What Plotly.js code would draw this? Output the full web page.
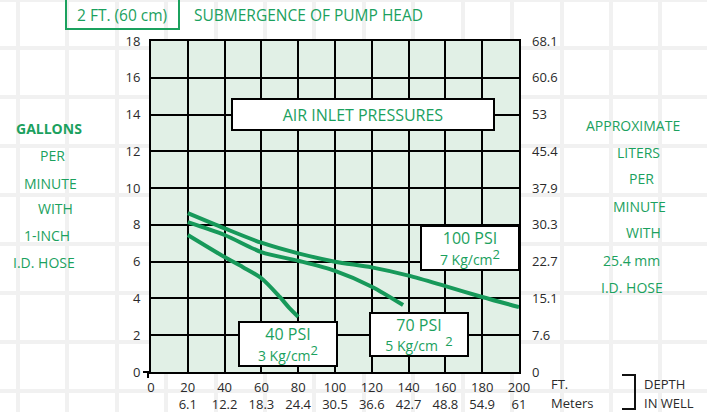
<!DOCTYPE html>
<html>
<head>
<meta charset="utf-8">
<script src="https://cdn.plot.ly/plotly-3.0.1.min.js"></script>
<style>
html,body{margin:0;padding:0;background:#fff;}
#chart{width:707px;height:412px;}
</style>
</head>
<body>
<div id="chart"></div>
<script>
// ---- data ----
const depthFt = [0, 20, 40, 60, 80, 100, 120, 140, 160, 180, 200];
const depthFtLabels = ['0', '20', '40', '60', '80', '100', '120', '140', '160', '180', '200'];
const depthMeterLabels = ['', '6.1', '12.2', '18.3', '24.4', '30.5', '36.6', '42.7', '48.8', '54.9', '61'];

const gpmTicks = [0, 2, 4, 6, 8, 10, 12, 14, 16, 18];
const lpmLabels = ['0', '7.6', '15.1', '22.7', '30.3', '37.9', '45.4', '53', '60.6', '68.1'];

const psi40Ft  = [20, 40, 50, 60, 70, 75, 80];
const psi40Gpm = [7.45, 6.25, 5.7, 5.1, 4.08, 3.5, 3.0];

const psi70Ft  = [20, 40, 60, 80, 100, 120, 137];
const psi70Gpm = [8.15, 7.45, 6.52, 6.05, 5.5, 4.64, 3.64];

const psi100Ft  = [20, 40, 60, 80, 100, 120, 140, 160, 180, 200];
const psi100Gpm = [8.64, 7.81, 7.03, 6.45, 6.0, 5.69, 5.24, 4.67, 4.08, 3.53];

// ---- layout helpers (pixel -> paper) ----
const W = 707, H = 412;
const L = 151, R = 519, T = 41, B = 372;
const PW = R - L, PH = B - T;
const px = x => (x - L) / PW;
const py = y => (B - y) / PH;

const GREEN_TXT = '#1ba15e';
const GREEN_LINE = '#17995a';
const FONT = 'Open Sans, Noto Sans, sans-serif';
const DARK = '#2a2a2a';

const lineStyle = {color: GREEN_LINE, width: 4, shape: 'spline', smoothing: 0.8};
const traces = [
  {x: psi100Ft, y: psi100Gpm, type: 'scatter', mode: 'lines', name: '100 PSI', line: lineStyle, hoverinfo: 'x+y'},
  {x: psi70Ft,  y: psi70Gpm,  type: 'scatter', mode: 'lines', name: '70 PSI',  line: lineStyle, hoverinfo: 'x+y'},
  {x: psi40Ft,  y: psi40Gpm,  type: 'scatter', mode: 'lines', name: '40 PSI',  line: lineStyle, hoverinfo: 'x+y'},
  // invisible trace to enable the right-hand axis
  {x: [0], y: [0], yaxis: 'y2', type: 'scatter', mode: 'markers', marker: {opacity: 0}, showlegend: false, hoverinfo: 'skip'}
];

// faint page grid
const shapes = [];
const faintV = [18, 67, 117, 166, 216, 265, 314, 364, 413, 463, 512, 562, 611, 660];
const faintH = [0, 48, 97, 146, 195, 244, 293, 342, 391];
faintV.forEach(v => shapes.push({type: 'line', xref: 'paper', yref: 'paper', layer: 'below',
  x0: px(v), x1: px(v), y0: py(0), y1: py(H), line: {color: '#f1f1f1', width: 4}}));
faintH.forEach(h => shapes.push({type: 'line', xref: 'paper', yref: 'paper', layer: 'below',
  x0: px(0), x1: px(W), y0: py(h), y1: py(h), line: {color: '#f1f1f1', width: 4}}));
// plot area fill
shapes.push({type: 'rect', xref: 'paper', yref: 'paper', layer: 'below', x0: 0, x1: 1, y0: 0, y1: 1,
  fillcolor: '#e1f0e6', line: {width: 0}});
// top "2 FT" box (open at top)
shapes.push({type: 'path', xref: 'paper', yref: 'paper',
  path: `M ${px(66)} ${py(-4)} L ${px(66)} ${py(29)} L ${px(179)} ${py(29)} L ${px(179)} ${py(-4)}`,
  line: {color: GREEN_TXT, width: 2}});
// x-axis stub to the left and tick at 0
shapes.push({type: 'line', xref: 'paper', yref: 'paper', x0: px(143), x1: px(151), y0: py(372), y1: py(372), line: {color: '#000', width: 2}});
shapes.push({type: 'line', xref: 'paper', yref: 'paper', x0: px(148), x1: px(148), y0: py(372), y1: py(378), line: {color: '#000', width: 2}});
// bracket for DEPTH IN WELL
shapes.push({type: 'path', xref: 'paper', yref: 'paper',
  path: `M ${px(622)} ${py(375)} L ${px(635)} ${py(375)} L ${px(635)} ${py(409)} L ${px(622)} ${py(409)}`,
  line: {color: '#111', width: 2}});

const ann = [];
function txt(text, x, y, opts) {
  ann.push(Object.assign({text: text, xref: 'paper', yref: 'paper', x: px(x), y: py(y),
    showarrow: false, xanchor: 'center', yanchor: 'middle',
    font: {family: FONT, size: 14, color: GREEN_TXT}}, opts || {}));
}
function box(text, cx, cy, w, h, size) {
  txt(text, cx, cy, {bgcolor: '#ffffff', bordercolor: '#000', borderwidth: 2, borderpad: 0,
    width: w, height: h, align: 'center', valign: 'middle',
    font: {family: FONT, size: size, color: GREEN_TXT}});
}

// title row
txt('2 FT. (60 cm)', 122, 15, {font: {family: FONT, size: 15.5, color: GREEN_TXT}});
txt('SUBMERGENCE OF PUMP HEAD', 192, 15, {xanchor: 'left', font: {family: FONT, size: 15.5, color: GREEN_TXT}});

// boxes
const sup2 = '<sup><span style="font-size:13px">2</span></sup>';
box('AIR INLET PRESSURES', 363, 114.5, 260, 29, 16);
box('100 PSI<br><span style="font-size:14px">7 Kg/cm' + sup2 + '</span>', 470, 248, 96, 42, 16);
box('40 PSI<br><span style="font-size:14px">3 Kg/cm' + sup2 + '</span>', 288, 344, 96, 42, 16);
box('70 PSI<br><span style="font-size:14px">5 Kg/cm  ' + sup2 + '</span>', 419, 334.5, 96, 41, 16);

// left side label
txt('<b>GALLONS</b>', 49, 128);
txt('PER', 52, 155);
txt('MINUTE', 50, 184);
txt('WITH', 55, 208);
txt('1-INCH', 47, 235);
txt('I.D. HOSE', 44, 262);

// right side label
txt('APPROXIMATE', 633, 126);
txt('LITERS', 638, 152);
txt('PER', 641, 178);
txt('MINUTE', 639, 206);
txt('WITH', 643, 232);
txt('25.4 mm', 631, 260);
txt('I.D. HOSE', 632, 287);

// bottom-right labels
const dk = {family: FONT, size: 13, color: DARK};
txt('FT.', 549, 384, {xanchor: 'left', font: dk});
txt('Meters', 549, 403, {xanchor: 'left', font: dk});
txt('DEPTH', 642, 384, {xanchor: 'left', font: dk});
txt('IN WELL', 642, 403, {xanchor: 'left', font: dk});

const xTickText = depthFtLabels.map((f, i) => depthMeterLabels[i] ? f + '<br>' + depthMeterLabels[i] : f);

const layout = {
  width: W, height: H,
  margin: {l: L, r: W - R, t: T, b: H - B, pad: 0},
  paper_bgcolor: '#ffffff',
  plot_bgcolor: 'rgba(0,0,0,0)',
  showlegend: false,
  font: {family: FONT, size: 13, color: DARK},
  xaxis: {
    range: [0, 200], tickvals: depthFt, ticktext: xTickText,
    showgrid: true, gridcolor: '#000', gridwidth: 2,
    showline: true, linecolor: '#000', linewidth: 2, mirror: true,
    zeroline: false, ticks: '', ticklabelstandoff: 2,
    tickfont: {family: FONT, size: 13, color: DARK}, fixedrange: true
  },
  yaxis: {
    range: [0, 18], tickvals: gpmTicks, ticktext: gpmTicks.map(String),
    showgrid: true, gridcolor: '#000', gridwidth: 2,
    showline: true, linecolor: '#000', linewidth: 2, mirror: true,
    zeroline: false, ticks: '', ticklabelstandoff: 6,
    tickfont: {family: FONT, size: 13, color: DARK}, fixedrange: true
  },
  yaxis2: {
    overlaying: 'y', side: 'right', range: [0, 18],
    tickvals: gpmTicks, ticktext: lpmLabels,
    showgrid: false, zeroline: false, showline: false, ticks: '', ticklabelstandoff: 12,
    tickfont: {family: FONT, size: 13, color: DARK}, fixedrange: true
  },
  shapes: shapes,
  annotations: ann
};

Plotly.newPlot('chart', traces, layout, {displayModeBar: false, staticPlot: true});
</script>
</body>
</html>
